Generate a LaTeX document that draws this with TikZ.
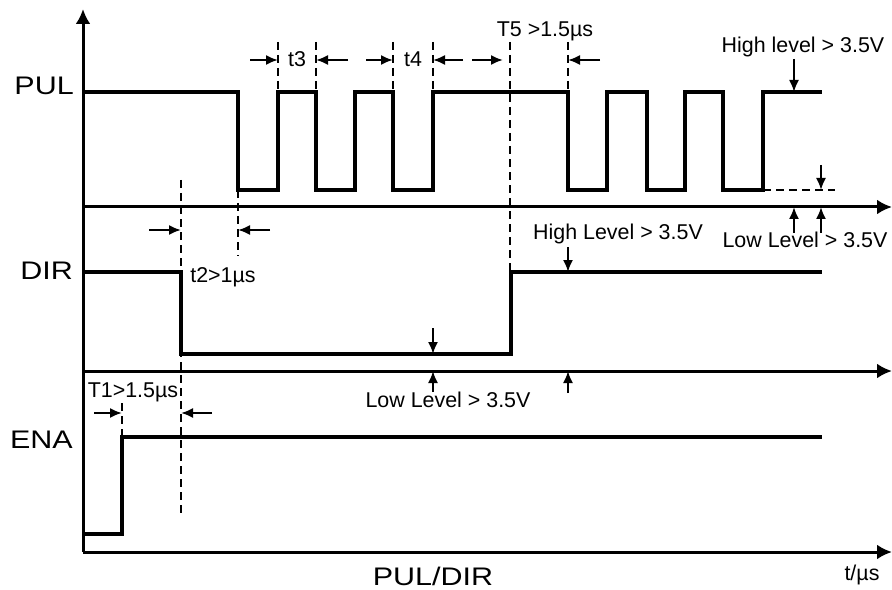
\documentclass[tikz,border=0pt]{standalone}
\usepackage{fontspec}
\setmainfont{Liberation Sans}
\newfontfamily\sigfont[FakeStretch=1.2]{Liberation Sans}
\usetikzlibrary{arrows.meta,positioning}

\tikzset{
  axis/.style={line width=3bp, -{Latex[length=15bp,width=15bp]}},
  signal/.style={line width=3.4bp, line join=miter},
  guide/.style={line width=1.8bp, dash pattern=on 8bp off 5bp},
  dimarrow/.style={line width=2bp, -{Latex[length=12bp,width=10bp]}},
  siglabel/.style={font=\sigfont\fontsize{25.5}{30}\selectfont, inner sep=0pt},
  note/.style={font=\fontsize{21.5}{24}\selectfont, inner sep=0pt, anchor=base},
}

\begin{document}
\begin{tikzpicture}[x=1bp,y=-1bp]
\useasboundingbox (0,0) rectangle (892,590);

% axes
\draw[axis] (83,552) -- (83,9);
\draw[axis] (83,207) -- (892,207);
\draw[axis] (83,371) -- (892,371);
\draw[axis] (83,552) -- (892,552);

% signal names
\node[siglabel, anchor=base east] (pul) at (74,95) {PUL};
\node[siglabel, anchor=base east] (dir) at (73,279) {DIR};
\node[siglabel, anchor=base east] (ena) at (73,448) {ENA};
\node[siglabel, anchor=base] (xlabel) at (433,585) {PUL/DIR};
\node[note] (tlabel) at (862,580) {t/µs};

% PUL pulses
\draw[signal] (83,92) -| (238,190) -| (278,92) -| (316,190) -| (355,92)
  -| (393,190) -| (433,92) -| (568,190) -| (607,92) -| (647,190)
  -| (685,92) -| (723,190) -| (763,92) -- (822,92);
\draw[guide] (763,190) -- (835,190);

% DIR and ENA levels
\draw[signal] (83,272) -| (181,354) -| (511,272) -- (822,272);
\draw[signal] (83,534) -| (122,437) -- (822,437);

% dashed guides
\draw[guide] (181,180) -- (181,518);
\draw[guide] (238,190) -- (238,256);
\foreach \x in {278,316,393,433,568}
  \draw[guide] (\x,42) -- (\x,92);
\draw[guide] (510,42) -- (510,272);
\draw[guide] (122,403) -- (122,437);

% pulse timings
\node[note] (t3) at (297,67) {t3};
\draw[dimarrow] (250,60) -- (278,60);
\draw[dimarrow] (348,60) -- (316,60);
\node[note] (t4) at (413,67) {t4};
\draw[dimarrow] (366,60) -- (393,60);
\draw[dimarrow] (463,60) -- (433,60);
\node[note] (t5) at (545,37) {T5 >1.5µs};
\draw[dimarrow] (472,60) -- (503,60);
\draw[dimarrow] (600,60) -- (568,60);

% PUL levels
\node[note] (hipul) at (803,53) {High level > 3.5V};
\draw[dimarrow] (794,59) -- (794,92);
\draw[dimarrow] (821,165) -- (821,190);
\draw[dimarrow] (794,233) -- (794,207);
\draw[dimarrow] (821,233) -- (821,207);
\node[note] (lopul) at (805,248) {Low Level > 3.5V};

% DIR setup
\node[note] (t2) at (223,282) {t2>1µs};
\draw[dimarrow] (149,230) -- (181,230);
\draw[dimarrow] (270,230) -- (238,230);

% DIR levels
\node[note] (hidir) at (618,240) {High Level > 3.5V};
\draw[dimarrow] (568,247) -- (568,272);
\draw[dimarrow] (433,328) -- (433,354);
\draw[dimarrow] (433,392) -- (433,371);
\draw[dimarrow] (568,393) -- (568,371);
\node[note] (lodir) at (448,407) {Low Level > 3.5V};

% ENA setup
\node[note] (t1) at (133,397) {T1>1.5µs};
\draw[dimarrow] (94,413) -- (122,413);
\draw[dimarrow] (212,413) -- (181,413);
\end{tikzpicture}
\end{document}
